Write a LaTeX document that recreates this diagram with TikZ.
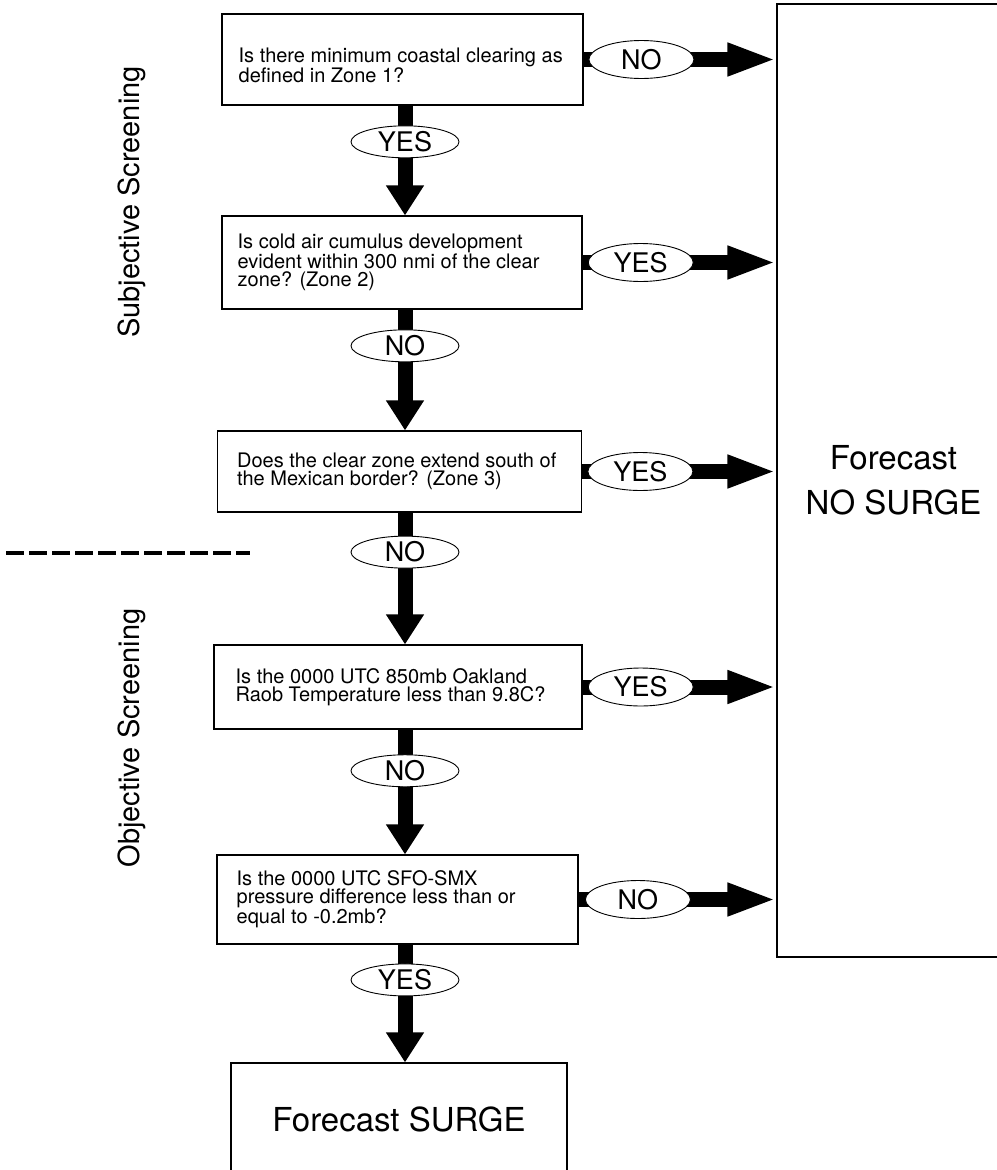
\documentclass[tikz,border=0pt]{standalone}
\usepackage{fontspec}
\setmainfont{TeX Gyre Heros}
\usetikzlibrary{shapes.geometric,arrows.meta}
\begin{document}
\begin{tikzpicture}[x=1pt,y=-1pt,
  qbox/.style={draw, line width=1.1pt, inner sep=0pt},
  qtext/.style={anchor=west, align=left, inner sep=0pt, font=\fontsize{20pt}{18pt}\selectfont},
  hfat/.style={line width=15pt, line cap=butt, -{Triangle[length=49pt,width=30pt]}},
  vfat/.style={line width=15pt, line cap=butt, -{Triangle[length=30pt,width=36pt]}},
  hlab/.style={ellipse, draw, line width=0.9pt, fill=white, minimum width=105pt, minimum height=38pt, inner sep=0pt, font=\fontsize{27pt}{27pt}\selectfont},
  vlab/.style={ellipse, draw, line width=0.9pt, fill=white, minimum width=108pt, minimum height=32pt, inner sep=0pt, font=\fontsize{27pt}{27pt}\selectfont},
  side/.style={rotate=90, inner sep=0pt, font=\fontsize{29pt}{29pt}\selectfont},
  dashline/.style={line width=4pt, dash pattern=on 18pt off 5pt}
]
\useasboundingbox (0,0) rectangle (996,1170);

% boxes
\node[qbox, minimum width=361pt, minimum height=91pt] (b1) at (402.5,59.5) {};
\node[qbox, minimum width=360pt, minimum height=93pt] (b2) at (402,262.5) {};
\node[qbox, minimum width=364pt, minimum height=81pt] (b3) at (399.5,471.5) {};
\node[qbox, minimum width=368pt, minimum height=84pt] (b4) at (398,687) {};
\node[qbox, minimum width=361pt, minimum height=89pt] (b5) at (397.5,899.5) {};
\node[qbox, minimum width=336pt, minimum height=112pt, font=\fontsize{33pt}{33pt}\selectfont] (b6) at (399,1119) {Forecast SURGE};
\node[qbox, minimum width=233pt, minimum height=953pt, align=center, font=\fontsize{33pt}{45pt}\selectfont] (ns) at (893.5,480.5) {Forecast\\NO SURGE};

% box texts
\node[qtext] (t1) at ([xshift=17pt,yshift=-6pt]b1.west) {Is there minimum coastal clearing as\\defined in Zone 1?};
\node[qtext] (t2) at ([xshift=16pt]b2.west) {Is cold air cumulus development\\evident within 300 nmi of the clear\\zone? (Zone 2)};
\node[qtext] (t3) at ([xshift=20pt]b3.west) {Does the clear zone extend south of\\the Mexican border? (Zone 3)};
\node[qtext] (t4) at ([xshift=22pt]b4.west) {Is the 0000 UTC 850mb Oakland\\Raob Temperature less than 9.8C?};
\node[qtext] (t5) at ([xshift=20pt]b5.west) {Is the 0000 UTC SFO-SMX\\pressure difference less than or\\equal to -0.2mb?};

% side labels
\node[side] (subj) at (132,202) {Subjective Screening};
\node[side] (obj) at (132,738) {Objective Screening};
\draw[dashline] (6,553) -- (250,553);

% vertical axis of the main chain
\coordinate (ax) at (405,0);

% horizontal arrows
\draw[hfat] (b1.east) -- (b1.east -| ns.west) node[hlab, pos=0.30] (h1) {NO};
\draw[hfat] (b2.east) -- (b2.east -| ns.west) node[hlab, pos=0.30] (h2) {YES};
\draw[hfat] (b3.east) -- (b3.east -| ns.west) node[hlab, pos=0.30] (h3) {YES};
\draw[hfat] (b4.east) -- (b4.east -| ns.west) node[hlab, pos=0.30] (h4) {YES};
\draw[hfat] (b5.east) -- (b5.east -| ns.west) node[hlab, pos=0.30] (h5) {NO};

% vertical arrows
\draw[vfat] (b1.south -| ax) -- (b2.north -| ax) node[vlab, pos=0.33] (v1) {YES};
\draw[vfat] (b2.south -| ax) -- (b3.north -| ax) node[vlab, pos=0.30] (v2) {NO};
\draw[vfat] (b3.south -| ax) -- (b4.north -| ax) node[vlab, pos=0.30] (v3) {NO};
\draw[vfat] (b4.south -| ax) -- (b5.north -| ax) node[vlab, pos=0.33] (v4) {NO};
\draw[vfat] (b5.south -| ax) -- (b6.north -| ax) node[vlab, pos=0.30] (v5) {YES};
\end{tikzpicture}
\end{document}
